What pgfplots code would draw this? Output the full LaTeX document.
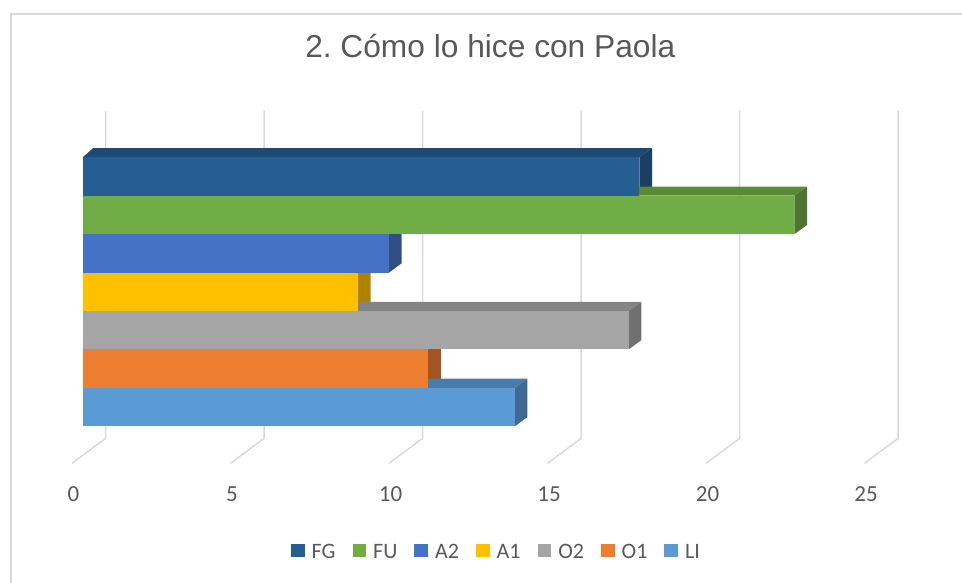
\documentclass[border=0pt]{standalone}
\usepackage{fontspec}
\setmainfont{Carlito}
\newfontfamily\titlefont{Liberation Sans}
\usepackage{pgfplots}
\pgfplotsset{compat=1.18}
\definecolor{txt}{HTML}{595959}
\definecolor{gridc}{HTML}{D9D9D9}
\definecolor{cFG}{HTML}{255E91}
\definecolor{cFU}{HTML}{70AD47}
\definecolor{cA2}{HTML}{4472C4}
\definecolor{cA1}{HTML}{FFC000}
\definecolor{cO2}{HTML}{A5A5A5}
\definecolor{cO1}{HTML}{ED7D31}
\definecolor{cLI}{HTML}{5B9BD5}
\newcommand\legtxt[1]{\fontsize{22}{22}\selectfont\color{txt}#1}
\begin{document}
\frenchspacing
\begin{tikzpicture}
\begin{axis}[
  scale only axis, width=900pt, height=380pt,
  xmin=-1.347, xmax=27.044, ymin=-0.897, ymax=8.991,
  clip=false,
  axis line style={draw=none},
  major tick length=0pt,
  ytick=\empty,
  xtick={0,5,10,15,20,25},
  /pgf/number format/assume math mode=true,
  xticklabel style={anchor=base, xshift=-9.2pt, yshift=-21.7pt, font=\fontsize{23}{23}\selectfont, text=txt},
  title={2.\ Cómo lo hice con Paola},
  title style={at={(0.5003,1.0966)}, anchor=base, font=\titlefont\fontsize{31.7}{31.7}\selectfont, text=txt},
  legend columns=7,
  legend image code/.code={\fill[#1] (0pt,-5pt) rectangle (13.7pt,8.7pt);},
  legend style={at={(0.2789,-0.1895)}, anchor=west, draw=none, fill=none, inner sep=0pt, outer sep=0pt,
    font=\fontsize{22}{22}\selectfont, text=txt, nodes={inner sep=0pt},
    /tikz/every odd column/.append style={column sep=7pt},
    /tikz/every even column/.append style={column sep=17pt}},
]
% grid: back wall + floor
\addplot[gridc, line width=1.5pt, forget plot] coordinates {(0.7256,8.713) (0.7256,0.188) (-0.3375,-0.4624)};
\addplot[gridc, line width=1.5pt, forget plot] coordinates {(5.7256,8.713) (5.7256,0.188) (4.6625,-0.4624)};
\addplot[gridc, line width=1.5pt, forget plot] coordinates {(10.7256,8.713) (10.7256,0.188) (9.6625,-0.4624)};
\addplot[gridc, line width=1.5pt, forget plot] coordinates {(15.7256,8.713) (15.7256,0.188) (14.6625,-0.4624)};
\addplot[gridc, line width=1.5pt, forget plot] coordinates {(20.7256,8.713) (20.7256,0.188) (19.6625,-0.4624)};
\addplot[gridc, line width=1.5pt, forget plot] coordinates {(25.7256,8.713) (25.7256,0.188) (24.6625,-0.4624)};
% depth faces (top, side)
\addplot[fill=cFG!80!black, draw=none, forget plot] coordinates {(0,7.5) (0.33,7.74) (17.96,7.74) (17.56,7.5)};
\addplot[fill=cFG!68!black, draw=none, forget plot] coordinates {(17.56,6.5) (17.96,6.74) (17.96,7.74) (17.56,7.5)};
\addplot[fill=cFU!80!black, draw=none, forget plot] coordinates {(0,6.5) (0.33,6.74) (22.85,6.74) (22.45,6.5)};
\addplot[fill=cFU!68!black, draw=none, forget plot] coordinates {(22.45,5.5) (22.85,5.74) (22.85,6.74) (22.45,6.5)};
\addplot[fill=cA2!80!black, draw=none, forget plot] coordinates {(0,5.5) (0.33,5.74) (10.06,5.74) (9.66,5.5)};
\addplot[fill=cA2!68!black, draw=none, forget plot] coordinates {(9.66,4.5) (10.06,4.74) (10.06,5.74) (9.66,5.5)};
\addplot[fill=cA1!80!black, draw=none, forget plot] coordinates {(0,4.5) (0.33,4.74) (9.08,4.74) (8.68,4.5)};
\addplot[fill=cA1!68!black, draw=none, forget plot] coordinates {(8.68,3.5) (9.08,3.74) (9.08,4.74) (8.68,4.5)};
\addplot[fill=cO2!80!black, draw=none, forget plot] coordinates {(0,3.5) (0.33,3.74) (17.62,3.74) (17.22,3.5)};
\addplot[fill=cO2!68!black, draw=none, forget plot] coordinates {(17.22,2.5) (17.62,2.74) (17.62,3.74) (17.22,3.5)};
\addplot[fill=cO1!80!black, draw=none, forget plot] coordinates {(0,2.5) (0.33,2.74) (11.30,2.74) (10.90,2.5)};
\addplot[fill=cO1!68!black, draw=none, forget plot] coordinates {(10.90,1.5) (11.30,1.74) (11.30,2.74) (10.90,2.5)};
\addplot[fill=cLI!80!black, draw=none, forget plot] coordinates {(0,1.5) (0.33,1.74) (14.03,1.74) (13.63,1.5)};
\addplot[fill=cLI!68!black, draw=none, forget plot] coordinates {(13.63,0.5) (14.03,0.74) (14.03,1.74) (13.63,1.5)};
% front faces
\addplot[xbar, bar width=1, bar shift=0pt, fill=cFG, draw=none] coordinates {(17.56,7)};
\addlegendentry{\legtxt{FG}}
\addplot[xbar, bar width=1, bar shift=0pt, fill=cFU, draw=none] coordinates {(22.45,6)};
\addlegendentry{\legtxt{FU}}
\addplot[xbar, bar width=1, bar shift=0pt, fill=cA2, draw=none] coordinates {(9.66,5)};
\addlegendentry{\legtxt{A2}}
\addplot[xbar, bar width=1, bar shift=0pt, fill=cA1, draw=none] coordinates {(8.68,4)};
\addlegendentry{\legtxt{A1}}
\addplot[xbar, bar width=1, bar shift=0pt, fill=cO2, draw=none] coordinates {(17.22,3)};
\addlegendentry{\legtxt{O2}}
\addplot[xbar, bar width=1, bar shift=0pt, fill=cO1, draw=none] coordinates {(10.90,2)};
\addlegendentry{\legtxt{O1}}
\addplot[xbar, bar width=1, bar shift=0pt, fill=cLI, draw=none] coordinates {(13.63,1)};
\addlegendentry{\legtxt{LI}}
\end{axis}
\pgfresetboundingbox
\path[use as bounding box] (-40pt,-102pt) rectangle (922pt,480pt);
\draw[gridc, line width=2pt] (-29pt,-110pt) -- (-29pt,466pt) -- (930pt,466pt);
\end{tikzpicture}
\end{document}
